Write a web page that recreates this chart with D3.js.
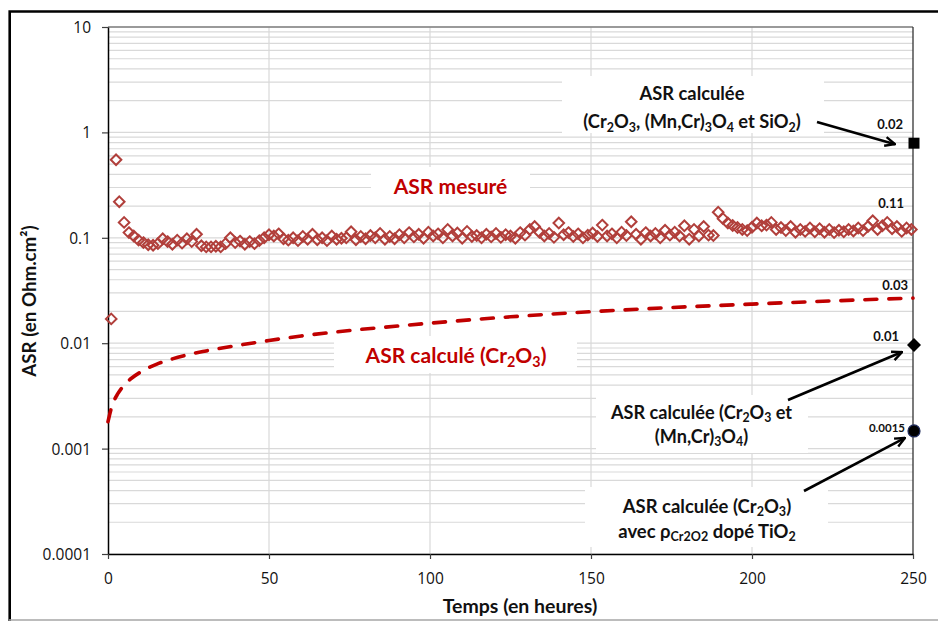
<!DOCTYPE html>
<html><head><meta charset="utf-8">
<script src="https://cdn.jsdelivr.net/npm/d3@7"></script>
<style>body{margin:0;background:#fff} svg{display:block}</style>
</head><body>
<script>
// ---------------- DATA ----------------
const measuredTime = [1, 2.5, 3.5,
  5,6.5,8,9.5,11,12.5,14,15.5,17,18.5,
  20,21.5,23,24.5,26,27.5,29,30.5,32,33.5,
  35,36.5,38,39.5,41,42.5,44,45.5,47,48.5,
  50,51.5,53,54.5,56,57.5,59,60.5,62,63.5,
  65,66.5,68,69.5,71,72.5,74,75.5,77,78.5,
  80,81.5,83,84.5,86,87.5,89,90.5,92,93.5,
  95,96.5,98,99.5,101,102.5,104,105.5,107,108.5,
  110,111.5,113,114.5,116,117.5,119,120.5,122,123.5,
  125,126.5,128,129.5,131,132.5,134,135.5,137,138.5,
  140,141.5,143,144.5,146,147.5,149,150.5,152,153.5,
  155,156.5,158,159.5,161,162.5,164,165.5,167,168.5,
  170,171.5,173,174.5,176,177.5,179,180.5,182,183.5,
  185,186.5,188,189.5,191,192.5,194,195.5,197,198.5,
  200,201.5,203,204.5,206,207.5,209,210.5,212,213.5,
  215,216.5,218,219.5,221,222.5,224,225.5,227,228.5,
  230,231.5,233,234.5,236,237.5,239,240.5,242,243.5,
  245,246.5,248,249.5];
const measuredASR = [0.017, 0.55, 0.22,
  0.14,0.112,0.104,0.095,0.09,0.086,0.085,0.088,0.098,0.092,
  0.087,0.095,0.089,0.098,0.092,0.108,0.084,0.082,0.082,0.083,
  0.082,0.088,0.1,0.09,0.093,0.087,0.092,0.088,0.094,0.1,
  0.107,0.104,0.109,0.098,0.095,0.1,0.094,0.103,0.097,0.108,
  0.096,0.1,0.094,0.104,0.097,0.099,0.1,0.114,0.096,0.103,
  0.098,0.105,0.1,0.11,0.097,0.103,0.098,0.107,0.1,0.112,
  0.102,0.108,0.099,0.113,0.104,0.109,0.1,0.12,0.104,0.111,
  0.099,0.115,0.103,0.105,0.1,0.108,0.102,0.11,0.101,0.107,
  0.104,0.099,0.112,0.106,0.12,0.128,0.113,0.104,0.11,0.101,
  0.138,0.107,0.112,0.103,0.109,0.1,0.106,0.111,0.103,0.132,
  0.104,0.109,0.1,0.113,0.105,0.142,0.108,0.097,0.112,0.104,
  0.11,0.1,0.118,0.106,0.113,0.104,0.13,0.097,0.12,0.104,
  0.128,0.106,0.105,0.175,0.152,0.138,0.131,0.125,0.12,0.117,
  0.126,0.138,0.13,0.132,0.14,0.12,0.125,0.117,0.128,0.113,
  0.12,0.115,0.124,0.114,0.122,0.113,0.12,0.112,0.118,0.114,
  0.12,0.116,0.124,0.117,0.128,0.145,0.12,0.13,0.14,0.122,
  0.128,0.115,0.124,0.12];

const calcTime = [0,1,2,3,5,7.5,10,15,20,25,30,40,50,60,75,85,100,125,150,175,200,225,250];
const calcASR  = [0.0018,0.0024,0.0029,0.0033,0.0040,0.0047,0.0053,0.0063,0.0071,0.0078,0.0084,0.0095,0.0106,0.0117,0.0132,0.0141,0.0155,0.0178,0.0199,0.0218,0.0235,0.0252,0.0268];

const endTime  = [250, 250, 250];
const endASR   = [0.79, 0.0096, 0.00147];
const endShape = ["square", "diamond", "circle"];
const endValueLabels = ["0.02", "0.01", "0.0015"];
const measuredEndLabel = "0.11";
const calcEndLabel = "0.03";

const xTicks = [0, 50, 100, 150, 200, 250];
const yTicks = [0.0001, 0.001, 0.01, 0.1, 1, 10];
const yTickLabels = ["0.0001", "0.001", "0.01", "0.1", "1", "10"];

const xTitle = "Temps (en heures)";
const yTitle = "ASR (en Ohm.cm²)";
const labelMeasured = "ASR mesuré";
const labelCalc = "ASR calculé (Cr{2}O{3})";
const noteTop = ["ASR calculée", "(Cr{2}O{3}, (Mn,Cr){3}O{4} et SiO{2})"];
const noteMid = ["ASR calculée (Cr{2}O{3} et", "(Mn,Cr){3}O{4})"];
const noteBot = ["ASR calculée (Cr{2}O{3})", "avec ρ{Cr2O2} dopé TiO{2}"];

// ---------------- CHART ----------------
const W = 938, H = 621;
const FONT = "Lato, 'Open Sans', sans-serif";
const svg = d3.select("body").append("svg").attr("width", W).attr("height", H);

const x = d3.scaleLinear().domain([0, 250]).range([108, 913]);
const y = d3.scaleLog().domain([0.0001, 10]).range([554, 27]);

// outer frame
svg.append("path").attr("d", "M9.7,621 V11.5 H938")
  .attr("fill", "none").attr("stroke", "#000").attr("stroke-width", 2.6);
svg.append("line").attr("x1", 9).attr("x2", W).attr("y1", 620).attr("y2", 620)
  .attr("stroke", "#a6a6a6").attr("stroke-width", 1.5);

// gridlines
const grid = svg.append("g");
grid.selectAll("line.h").data(y.ticks()).join("line")
  .attr("x1", x(0)).attr("x2", x(250))
  .attr("y1", d => y(d)).attr("y2", d => y(d))
  .attr("stroke", "#d9d9d9").attr("stroke-width", 1.2);
grid.selectAll("line.v").data(xTicks.filter(d => d > 0 && d < 250)).join("line")
  .attr("y1", y(10)).attr("y2", y(0.0001))
  .attr("x1", d => x(d)).attr("x2", d => x(d))
  .attr("stroke", "#d9d9d9").attr("stroke-width", 1.2);

// white label boxes (hide gridlines)
const boxes = [[562, 76, 262, 57], [371, 167, 159, 35], [334, 336, 243, 37], [596, 395, 212, 58], [585, 487, 243, 60]];
svg.append("g").selectAll("rect").data(boxes).join("rect")
  .attr("x", d => d[0]).attr("y", d => d[1]).attr("width", d => d[2]).attr("height", d => d[3])
  .attr("fill", "#fff");

// plot border top/right
svg.append("line").attr("x1", x(0)).attr("x2", x(250)).attr("y1", y(10)).attr("y2", y(10))
  .attr("stroke", "#7f7f7f").attr("stroke-width", 1.3);
svg.append("line").attr("x1", x(250)).attr("x2", x(250)).attr("y1", y(10)).attr("y2", y(0.0001))
  .attr("stroke", "#333").attr("stroke-width", 1.3);

// axes
const yAxis = svg.append("g").attr("transform", `translate(${x(0)},0)`)
  .call(d3.axisLeft(y).tickValues(yTicks).tickFormat((d, i) => yTickLabels[i]).tickSize(6).tickSizeOuter(0).tickPadding(11));
const xAxis = svg.append("g").attr("transform", `translate(0,${y(0.0001)})`)
  .call(d3.axisBottom(x).tickValues(xTicks).tickFormat(d3.format("d")).tickSize(5).tickSizeOuter(0));
[yAxis, xAxis].forEach(g => {
  g.select(".domain").attr("stroke", "#000").attr("stroke-width", 1.5);
  g.selectAll(".tick line").attr("stroke", "#404040").attr("stroke-width", 1.2);
  g.selectAll(".tick text").attr("fill", "#111").style("font-family", "'Open Sans', sans-serif").style("font-size", "15.5px");
});
yAxis.selectAll(".tick text").attr("dy", "0.36em");
xAxis.selectAll(".tick text").attr("y", 30).attr("dy", 0);

// rich text helper: {..} = subscript
function rich(sel, str) {
  const parts = str.split(/(\{[^}]*\})/).filter(p => p.length);
  let shifted = false;
  parts.forEach(p => {
    if (p.startsWith("{")) {
      sel.append("tspan").attr("font-size", "0.68em").attr("dy", shifted ? null : "0.3em").text(p.slice(1, -1));
      shifted = true;
    } else {
      const t = sel.append("tspan").text(p);
      if (shifted) { t.attr("dy", "-0.204em"); shifted = false; }
    }
  });
  return sel;
}
function fit(sel, target) {
  const fs = parseFloat(sel.attr("font-size"));
  const w = sel.node().getBBox().width;
  sel.attr("font-size", fs * target / w);
  return fs * target / w;
}

// axis titles
const yt = svg.append("text").attr("transform", "translate(36,301) rotate(-90)")
  .attr("text-anchor", "middle").attr("font-family", FONT).attr("font-weight", "bold")
  .attr("font-size", 17).attr("fill", "#111").text(yTitle);
fit(yt, 153);
const xt = svg.append("text").attr("x", 520).attr("y", 613)
  .attr("text-anchor", "middle").attr("font-family", FONT).attr("font-weight", "bold")
  .attr("font-size", 17).attr("fill", "#111").text(xTitle);
fit(xt, 155);

// calculated dashed curve
svg.append("path").datum(calcTime.map((t, i) => [t, calcASR[i]]))
  .attr("fill", "none").attr("stroke", "#c00000").attr("stroke-width", 3.6)
  .attr("stroke-dasharray", "12,12").attr("stroke-linecap", "round")
  .attr("d", d3.line().x(d => x(d[0])).y(d => y(d[1])).curve(d3.curveMonotoneX));

// measured diamonds
svg.append("g").selectAll("path").data(measuredTime.map((t, i) => [t, measuredASR[i]])).join("path")
  .attr("transform", d => `translate(${x(d[0])},${y(d[1])})`)
  .attr("d", "M0,-5.3 L5.3,0 L0,5.3 L-5.3,0 Z")
  .attr("fill", "none").attr("stroke", "#b13f3b").attr("stroke-width", 2);

// black end-point markers
const shapes = {
  square: "M-5.5,-5.5 H5.5 V5.5 H-5.5 Z",
  diamond: "M0,-7 L7,0 L0,7 L-7,0 Z",
  circle: d3.symbol(d3.symbolCircle, Math.PI * 36)()
};
svg.append("g").selectAll("path").data(endTime.map((t, i) => ({ t, v: endASR[i], s: endShape[i] }))).join("path")
  .attr("transform", d => `translate(${x(d.t) + 1},${y(d.v)})`)
  .attr("d", d => shapes[d.s]).attr("fill", "#000")
  .attr("stroke", d => d.s === "circle" ? "#1f2a5a" : "none").attr("stroke-width", 1.2);

// value labels
const valLabels = [
  { txt: endValueLabels[0], x: x(250) - 10, y: y(endASR[0]) - 14, fs: 13 },
  { txt: measuredEndLabel, x: x(250) - 9, y: y(measuredASR[measuredASR.length - 1]) - 21, fs: 13 },
  { txt: calcEndLabel, x: x(250) - 5, y: y(calcASR[calcASR.length - 1]) - 8, fs: 13 },
  { txt: endValueLabels[1], x: x(250) - 14, y: y(endASR[1]) - 4, fs: 13 },
  { txt: endValueLabels[2], x: x(250) - 8, y: y(endASR[2]) + 1, fs: 11.5 }
];
svg.append("g").selectAll("text").data(valLabels).join("text")
  .attr("x", d => d.x).attr("y", d => d.y).attr("text-anchor", "end")
  .attr("font-family", FONT).attr("font-weight", "bold").attr("font-size", d => d.fs)
  .attr("fill", "#111").text(d => d.txt);

// red series labels
const lm = svg.append("text").attr("x", 450.5).attr("y", 194).attr("text-anchor", "middle")
  .attr("font-family", FONT).attr("font-weight", "bold").attr("font-size", 20).attr("fill", "#c00000");
rich(lm, labelMeasured); fit(lm, 115);
const lc = svg.append("text").attr("x", 456).attr("y", 363).attr("text-anchor", "middle")
  .attr("font-family", FONT).attr("font-weight", "bold").attr("font-size", 20).attr("fill", "#c00000");
rich(lc, labelCalc); fit(lc, 182);

// black notes
function note(lines, cx, baselines, refWidth) {
  const ts = lines.map((l, i) => {
    const t = svg.append("text").attr("x", cx).attr("y", baselines[i]).attr("text-anchor", "middle")
      .attr("font-family", FONT).attr("font-weight", "bold").attr("font-size", 17).attr("fill", "#111");
    rich(t, l);
    return t;
  });
  const fs = fit(ts[0], refWidth);
  ts.forEach(t => t.attr("font-size", fs));
}
note(noteTop, 692, [100, 128], 106);
note(noteMid, 701.5, [418.5, 442.5], 183);
note(noteBot, 707, [512.5, 537.5], 170);

// arrows
const defs = svg.append("defs");
defs.append("marker").attr("id", "arr").attr("viewBox", "0 0 12 12").attr("refX", 11).attr("refY", 6)
  .attr("markerWidth", 12).attr("markerHeight", 12).attr("markerUnits", "userSpaceOnUse").attr("orient", "auto")
  .append("path").attr("d", "M1,1.5 L11,6 L1,10.5").attr("fill", "none").attr("stroke", "#000").attr("stroke-width", 2.4);
const arrows = [
  [817, 122, x(250) - 18, y(endASR[0]) + 1],
  [788, 400, x(250) - 11, y(endASR[1]) + 7],
  [804, 491, x(250) - 8, y(endASR[2]) + 7]
];
svg.append("g").selectAll("line").data(arrows).join("line")
  .attr("x1", d => d[0]).attr("y1", d => d[1]).attr("x2", d => d[2]).attr("y2", d => d[3])
  .attr("stroke", "#000").attr("stroke-width", 2.6).attr("marker-end", "url(#arr)");
</script>
</body></html>
